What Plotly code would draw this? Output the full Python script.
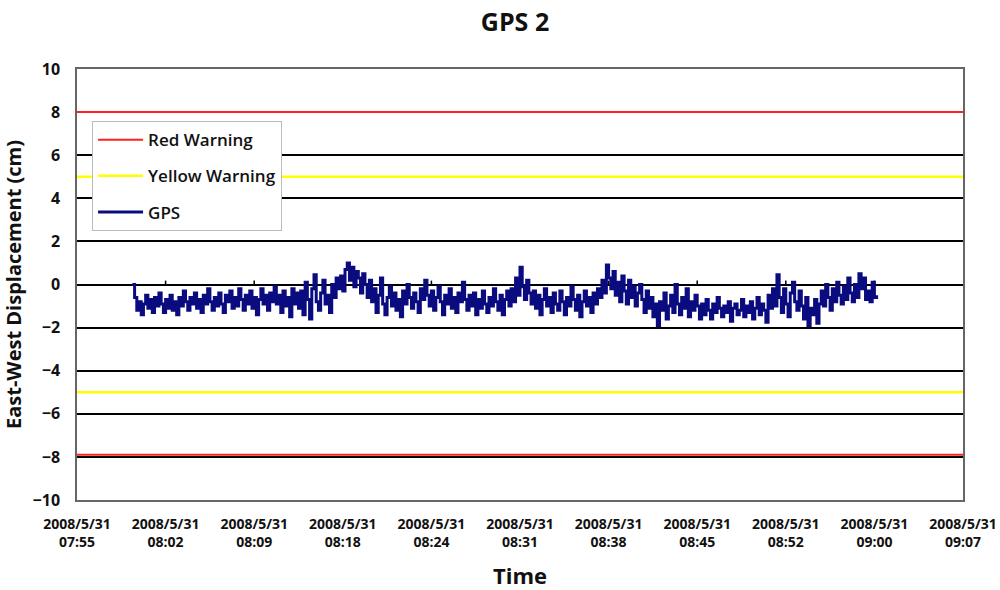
import plotly.graph_objects as go

# ---- data ----
tick_labels = ["2008/5/31<br>07:55", "2008/5/31<br>08:02", "2008/5/31<br>08:09",
               "2008/5/31<br>08:18", "2008/5/31<br>08:24", "2008/5/31<br>08:31",
               "2008/5/31<br>08:38", "2008/5/31<br>08:45", "2008/5/31<br>08:52",
               "2008/5/31<br>09:00", "2008/5/31<br>09:07"]
samples_per_tick = 40
gps_start = 25
gps_values = [
    # 08:02 -> 08:16
    0.0, -0.6, -1.2, -0.8, -1.4, -0.9, -0.5, -1.1, -0.7, -1.3,
    -0.6, -1.0, -0.4, -0.9, -1.3, -0.7, -1.1, -0.5, -1.2, -0.8,
    -1.4, -0.6, -1.0, -0.3, -0.8, -1.2, -0.6, -0.9, -0.4, -1.1,
    -0.7, -1.3, -0.5, -0.9, -0.2, -0.8, -1.2, -0.6, -1.0, -0.4,
    -0.9, -1.3, -0.5, -0.8, -0.3, -1.1, -0.6, -1.0, -0.2, -0.7,
    -1.2, -0.5, -0.9, -0.3, -1.1, -0.6, -1.4, -0.7, -0.2, -0.9,
    -0.5, -1.2, -0.4, -0.8, -0.1, -0.9, -0.5, -1.3, -0.3, -1.0,
    -0.6, -1.5, -0.2, -0.9, -0.4, -1.1,
    # 08:16 -> 08:20
    -0.3, -1.4, 0.1, -0.7, -1.6, -0.2, 0.45, -0.8, -1.2, -0.4,
    0.2, -0.9, -0.5, -1.3, 0.0, -0.6, 0.3, -0.2,
    0.4, -0.3, 0.7, 1.0, 0.2, 0.8, -0.1, 0.6, 0.3, -0.4,
    0.5, 0.0, -0.6, 0.2,
    # 08:20 -> 08:28
    -0.8, -0.2, -1.3, -0.5, 0.3, -0.9, -1.4, -0.6, -0.1, -1.0,
    -0.4, -1.2, -0.7, -1.5, -0.3, -0.9, 0.0, -0.6, -1.1, -0.4,
    -0.8, -1.3, -0.2, -0.7, 0.2, -0.5, -1.0, -0.3, -1.2, -0.6,
    -0.1, -0.8, -1.4, -0.5, -0.9, -0.2, -1.1, -0.6, -1.3, -0.4,
    -0.8, 0.1, -0.7, -1.2, -0.5,
    # 08:28 -> 08:33
    -1.0, -0.4, -1.4, -0.7, -1.1, -0.3, -0.9, -1.3, -0.6, -1.0,
    -0.2, -0.8, -1.2, -0.5, -1.4, -0.7, -0.3, -1.0,
    -0.2, -0.8, 0.3, -0.5, 0.8, -0.1, -0.7, 0.2, -0.4, -0.9,
    -0.3,
    # 08:33 -> 08:38
    -1.1, -0.5, -1.4, -0.7, -0.2, -1.0, -0.6, -1.3, -0.4, -0.9,
    -1.2, -0.3, -0.8, -1.4, -0.6, -1.0, -0.1, -0.7, -1.2, -0.5,
    -1.5, -0.8, -0.3, -1.0, -0.6, -1.3, -0.4, -0.9, -0.2, -0.6,
    # 08:38 -> 08:41
    0.2, -0.4, 0.9, 0.3, -0.2, 0.6, -0.5, 0.1, -0.8, 0.4,
    -0.3, -0.9, 0.2, -0.6, -0.1, -1.0, -0.4, 0.0,
    # 08:41 -> 08:46
    -0.7, -1.3, -0.3, -1.1, -0.6, -1.5, -0.9, -1.9, -0.8, -1.2,
    -0.4, -1.6, -1.0, -0.5, -1.3, 0.0, -0.9, -1.4, -0.6, -1.1,
    -0.2, -1.5, -0.8, -1.2, -0.5, -1.0, -1.6,
    # 08:46 -> 08:52
    -0.9, -1.4, -0.7, -1.2, -1.6, -0.9, -1.3, -0.6, -1.1, -1.5,
    -1.0, -1.3, -0.8, -1.7, -1.1, -0.9, -1.4, -1.2, -0.7, -1.5,
    -1.0, -1.3, -0.8, -1.6, -1.1, -0.6, -1.4, -0.9, -1.2, -1.75,
    -0.5, -1.1, -0.2,
    # 08:52 -> 09:00
    -1.0, 0.45, -0.6, -1.3, -0.2, -0.9, -1.5, -0.4, 0.1, -0.8,
    -1.2, -0.3,
    -1.0, -1.6, -0.6, -1.9, -1.1, -1.4, -0.7, -1.8, -0.9,
    -0.3, -1.0, 0.0, -0.6, -1.2, -0.2, -0.8, 0.1, -0.5, -0.9,
    -0.1, -0.7, 0.3, -0.4, -0.8, 0.0, -0.6, 0.5, -0.2, 0.3,
    -0.7, -0.3, -0.8, 0.1, -0.6, -0.5,
]
red_levels = [8.0, -7.9]
yellow_levels = [5.0, -5.0]
y_ticks = list(range(-10, 11, 2))

# ---- derived ----
tick_pos = [i * samples_per_tick for i in range(len(tick_labels))]
x_min, x_max = tick_pos[0], tick_pos[-1]
gps_x = list(range(gps_start, gps_start + len(gps_values)))

def level_trace(levels):
    xs, ys = [], []
    for lv in levels:
        xs += [x_min, x_max, None]
        ys += [lv, lv, None]
    return xs, ys

FONT = "Open Sans"
fig = go.Figure()

rx, ry = level_trace(red_levels)
fig.add_trace(go.Scatter(x=rx, y=ry, mode="lines", name="Red Warning",
                         line=dict(color="#ff2020", width=2), legendgroup="r"))
yx, yy = level_trace(yellow_levels)
fig.add_trace(go.Scatter(x=yx, y=yy, mode="lines", name="Yellow Warning",
                         line=dict(color="#ffff00", width=2.5), legendgroup="y"))
fig.add_trace(go.Scatter(x=gps_x, y=gps_values, mode="lines", name="GPS",
                         line=dict(color="#0b0b80", width=3, shape="hv"),
                         legendgroup="g"))

# small category-axis tick marks on the zero line
for tp in tick_pos[1:-1]:
    fig.add_shape(type="line", xref="x", yref="y", x0=tp, x1=tp, y0=0, y1=0.18,
                  line=dict(color="black", width=1.5), layer="below")

fig.update_layout(
    width=1000, height=590,
    paper_bgcolor="white", plot_bgcolor="white",
    margin=dict(l=77, r=37, t=69, b=90),
    title=dict(text="GPS 2", x=0.515, xanchor="center", y=0.962, yanchor="middle",
               font=dict(family=FONT, size=25, color="#111", weight="bold")),
    legend=dict(x=0.017, y=0.879, xanchor="left", yanchor="top",
                bgcolor="white", bordercolor="#bbbbbb", borderwidth=1,
                tracegroupgap=11, itemwidth=45,
                font=dict(family=FONT, size=17, color="#111", weight=600)),
    showlegend=True,
)

fig.update_xaxes(
    range=[x_min, x_max], tickmode="array", tickvals=tick_pos, ticktext=tick_labels,
    showgrid=False, zeroline=False, showline=True, linecolor="#666", linewidth=1.5,
    mirror=True, ticks="", ticklabelstandoff=10, automargin=False,
    ticklabeloverflow="allow",
    tickfont=dict(family=FONT, size=14, color="#111", weight="bold"),
    title=dict(text="Time", standoff=19,
               font=dict(family=FONT, size=22, color="#111", weight="bold")),
)
fig.update_yaxes(
    range=[-10, 10], tickmode="array", tickvals=y_ticks,
    showgrid=True, gridcolor="black", gridwidth=1.5,
    zeroline=True, zerolinecolor="black", zerolinewidth=1.5,
    showline=True, linecolor="#666", linewidth=1.5, mirror=True,
    ticks="", ticklabelstandoff=12, automargin=False,
    tickfont=dict(family=FONT, size=16, color="#111", weight="bold"),
    title=dict(text="East-West Displacement (cm)", standoff=12,
               font=dict(family=FONT, size=20, color="#111", weight="bold")),
)

fig.write_html("out.html")
